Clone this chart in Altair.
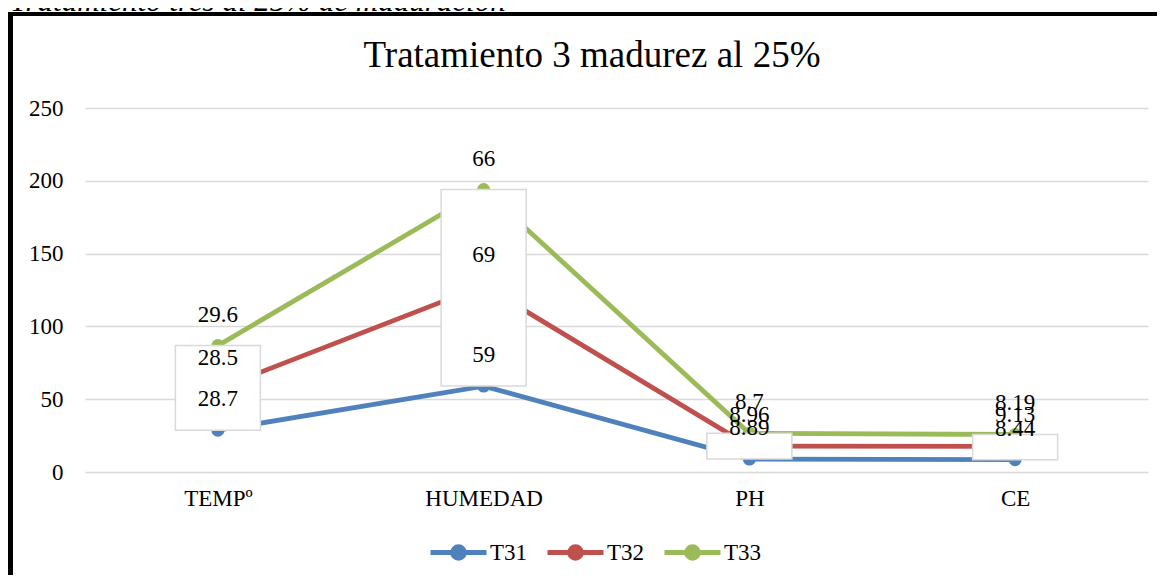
import altair as alt
import pandas as pd

categories = ["TEMPº", "HUMEDAD", "PH", "CE"]
series_names = ["T31", "T32", "T33"]
t31 = [28.7, 59, 8.89, 8.44]
t32 = [28.5, 69, 8.96, 9.13]
t33 = [29.6, 66, 8.7, 8.19]
colors = ["#4F81BD", "#C0504D", "#9BBB59"]
y_ticks = [0, 50, 100, 150, 200, 250]
title_text = "Tratamiento 3 madurez al 25%"
caption_text = "Tratamiento tres al 25% de maduración"

rows = []
for name, vals in zip(series_names, [t31, t32, t33]):
    for c, v in zip(categories, vals):
        rows.append({"cat": c, "series": name, "value": v})
df = pd.DataFrame(rows)

FONT = "Liberation Serif"
FS = 23
W, H = 1063, 364
PL, PT, PR, PB = 77, 100, 9, 103

base = alt.Chart(df).transform_window(
    cum="sum(value)", groupby=["cat"], sort=[alt.SortField("series")],
    frame=[None, 0]
).transform_joinaggregate(total="sum(value)", groupby=["cat"])

x = alt.X("cat:N", sort=categories, scale=alt.Scale(type="point", padding=0.5),
          axis=alt.Axis(title=None, labelAngle=0, ticks=False, domain=False, grid=False,
                        labelFont=FONT, labelFontSize=FS, labelColor="#000",
                        labelPadding=15, labelBaseline="top"))
yscale = alt.Scale(domain=[0, 250], nice=False)
cscale = alt.Scale(domain=series_names, range=colors)


def circ(r):
    return f"M-{r},0A{r},{r},0,1,1,{r},0A{r},{r},0,1,1,-{r},0"


legend_path = "M-1,0L1,0" + circ(0.06) + circ(0.14) + circ(0.21)

lines = base.mark_line(strokeWidth=4.8).encode(
    x=x,
    y=alt.Y("cum:Q", scale=yscale,
            axis=alt.Axis(title=None, values=y_ticks, ticks=False, domain=False,
                          grid=True, gridColor="#D9D9D9", gridWidth=1.5,
                          labelFont=FONT, labelFontSize=FS, labelColor="#000",
                          labelPadding=22)),
    color=alt.Color("series:N", scale=cscale,
                    legend=alt.Legend(title=None, orient="none", direction="horizontal",
                                      legendX=343, legendY=414, padding=0,
                                      symbolType=legend_path, symbolSize=3136,
                                      symbolStrokeWidth=4.8, labelOffset=1,
                                      symbolFillColor="transparent",
                                      columnPadding=9, labelFont=FONT,
                                      labelFontSize=FS, labelColor="#000")),
    detail="series:N",
)

points = base.mark_circle(size=170, opacity=1).encode(
    x=x, y=alt.Y("cum:Q", scale=yscale),
    color=alt.Color("series:N", scale=cscale, legend=None)
)

updown = base.transform_filter(alt.datum.series == "T31").mark_bar(
    size=85, fill="white", stroke="#D9D9D9", strokeWidth=1.5
).encode(x=x, y=alt.Y("value:Q", scale=yscale), y2="total:Q")

labels = base.mark_text(font=FONT, fontSize=FS, color="#000", dy=-31,
                        baseline="middle", align="center").encode(
    x=x, y=alt.Y("cum:Q", scale=yscale), text=alt.Text("value:Q")
)

frame_left = alt.Chart(df).mark_rule(color="#000", strokeWidth=5).encode(
    x=alt.value(-74.5), y=alt.value(-95), y2=alt.value(H + PB))
frame_top = alt.Chart(df).mark_rule(color="#000", strokeWidth=3).encode(
    x=alt.value(-77), x2=alt.value(W + PR), y=alt.value(-94))
caption = alt.Chart(pd.DataFrame({"t": [caption_text]})).mark_text(
    font=FONT, fontSize=31, fontStyle="italic", align="left", baseline="alphabetic",
    color="#000").encode(x=alt.value(-75), y=alt.value(-97), text="t:N")
title = alt.Chart(pd.DataFrame({"t": [title_text]})).mark_text(
    font=FONT, fontSize=37, align="center", baseline="alphabetic",
    color="#000").encode(x=alt.value(507), y=alt.value(-41), text="t:N")

chart = alt.layer(lines, points, updown, labels, frame_left, frame_top, caption, title).properties(
    width=W, height=H,
    background="white",
    autosize=alt.AutoSizeParams(type="none"),
    padding={"left": PL, "top": PT, "right": PR, "bottom": PB},
).configure_view(stroke=None)

chart.save("out.html", embed_options={"renderer": "svg", "actions": False})
